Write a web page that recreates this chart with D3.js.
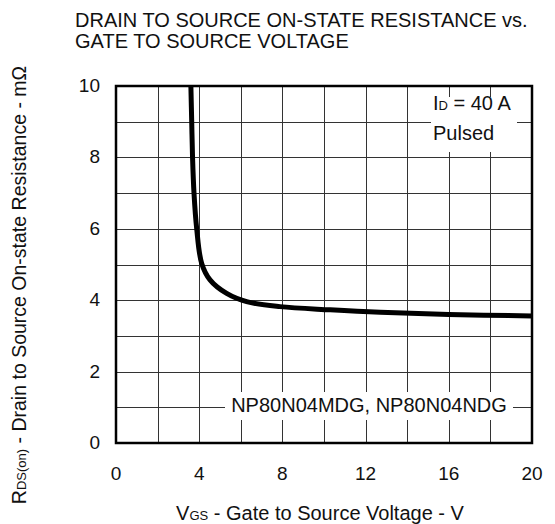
<!DOCTYPE html>
<html>
<head>
<meta charset="utf-8">
<script src="https://cdn.jsdelivr.net/npm/d3@7"></script>
<style>
  body { margin: 0; background: white; }
  text { font-family: "Liberation Sans", Arial, sans-serif; fill: #111; }
</style>
</head>
<body>
<div id="paper"></div>
<script>

// curve.

const vgs = [3.6, 3.64, 3.68, 3.75, 3.88, 4.12, 4.52, 5.32, 6.28, 7.88, 10.3, 12.7, 16, 20]
const rds = [10, 9.0, 8.0, 7.0, 6.0, 5.03, 4.57, 4.19, 3.96, 3.82, 3.73, 3.66, 3.6, 3.56]

const x_grid = d3.range(0, 21, 2)
const y_grid = d3.range(0, 11, 1)
const x_ticks = [0, 4, 8, 12, 16, 20]
const y_ticks = [0, 2, 4, 6, 8, 10]

const title_lines = ["DRAIN TO SOURCE ON-STATE RESISTANCE vs.", "GATE TO SOURCE VOLTAGE"]

// svg canvas.

const svg = d3.select("#paper")
    .append("svg")
    .attr("id", "canvas")
    .attr("width", 555)
    .attr("height", 524)

const plot_left = 116, plot_right = 532, plot_top = 86, plot_bottom = 443

const x = d3.scaleLinear().domain([0, 20]).range([plot_left, plot_right])
const y = d3.scaleLinear().domain([0, 10]).range([plot_bottom, plot_top])

// grid.

svg.selectAll(".vgrid")
    .data(x_grid)
    .join("line")
    .attr("class", "vgrid")
    .attr("x1", d => Math.round(x(d)) + 0.5)
    .attr("x2", d => Math.round(x(d)) + 0.5)
    .attr("y1", plot_top)
    .attr("y2", plot_bottom)
    .style("stroke", "#333")
    .style("stroke-width", 1)

svg.selectAll(".hgrid")
    .data(y_grid)
    .join("line")
    .attr("class", "hgrid")
    .attr("x1", plot_left)
    .attr("x2", plot_right)
    .attr("y1", d => Math.round(y(d)) + 0.5)
    .attr("y2", d => Math.round(y(d)) + 0.5)
    .style("stroke", "#333")
    .style("stroke-width", 1)

// white boxes behind the notes, they cut the grid.

svg.append("rect")
    .attr("x", 431).attr("y", 97).attr("width", 86).attr("height", 55)
    .style("fill", "white")

svg.append("rect")
    .attr("x", 225).attr("y", 392).attr("width", 288).attr("height", 28)
    .style("fill", "white")

// curve.

const line = d3.line()
    .x(d => x(d[0]))
    .y(d => y(d[1]))
    .curve(d3.curveCatmullRom.alpha(0.5))

svg.append("clipPath").attr("id", "clip")
    .append("rect")
    .attr("x", plot_left).attr("y", plot_top)
    .attr("width", plot_right - plot_left).attr("height", plot_bottom - plot_top)

svg.append("path")
    .datum(d3.zip(vgs, rds))
    .attr("d", line)
    .attr("clip-path", "url(#clip)")
    .style("fill", "none")
    .style("stroke", "black")
    .style("stroke-width", 5)

// frame.

svg.append("rect")
    .attr("x", plot_left).attr("y", plot_top)
    .attr("width", plot_right - plot_left).attr("height", plot_bottom - plot_top)
    .style("fill", "none")
    .style("stroke", "black")
    .style("stroke-width", 2.5)

// tick labels.

svg.selectAll(".xlab")
    .data(x_ticks)
    .join("text")
    .attr("class", "xlab")
    .attr("x", d => x(d))
    .attr("y", 480)
    .attr("text-anchor", "middle")
    .style("font-size", "19px")
    .text(d => d)

svg.selectAll(".ylab")
    .data(y_ticks)
    .join("text")
    .attr("class", "ylab")
    .attr("x", 100)
    .attr("y", d => y(d) + 6)
    .attr("text-anchor", "end")
    .style("font-size", "19px")
    .text(d => d)

// notes.

let id_note = svg.append("text").attr("x", 433).attr("y", 110).style("font-size", "20px")
id_note.append("tspan").text("I")
id_note.append("tspan").style("font-size", "13px").text("D")
id_note.append("tspan").text(" = 40 A")

svg.append("text").attr("x", 433).attr("y", 140).style("font-size", "20px").text("Pulsed")

svg.append("text")
    .attr("x", 369).attr("y", 412)
    .attr("text-anchor", "middle")
    .style("font-size", "20px")
    .text("NP80N04MDG, NP80N04NDG")

// title.

svg.selectAll(".title")
    .data(title_lines)
    .join("text")
    .attr("class", "title")
    .attr("x", 75)
    .attr("y", (d, i) => 27 + i * 21)
    .style("font-size", "20px")
    .text(d => d)

// axis titles.

let x_title = svg.append("text")
    .attr("x", 320).attr("y", 520)
    .attr("text-anchor", "middle")
    .style("font-size", "20px")
x_title.append("tspan").text("V")
x_title.append("tspan").style("font-size", "13px").text("GS")
x_title.append("tspan").text(" - Gate to Source Voltage - V")

let y_title = svg.append("text")
    .attr("transform", "translate(26, 285) rotate(-90)")
    .attr("text-anchor", "middle")
    .style("font-size", "19.5px")
y_title.append("tspan").text("R")
y_title.append("tspan").style("font-size", "13px").text("DS(on)")
y_title.append("tspan").text(" - Drain to Source On-state Resistance - m\u03a9")

</script>
</body>
</html>
